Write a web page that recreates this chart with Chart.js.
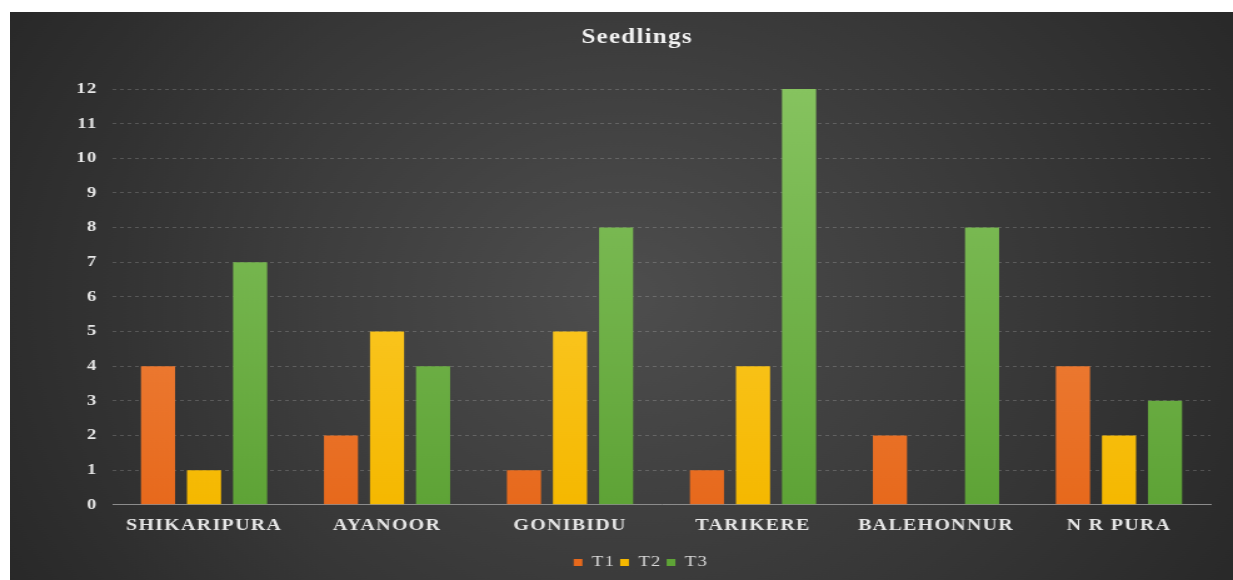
<!DOCTYPE html>
<html>
<head>
<meta charset="utf-8">
<script src="https://cdn.jsdelivr.net/npm/chart.js@4.4.1/dist/chart.umd.min.js"></script>
<style>
    body { margin: 0; background: #fff; }
    #wrap {
        position: absolute;
        left: 10px;
        top: 12px;
        width: 978px;
        height: 568px;
        transform: scaleX(1.2505);
        transform-origin: 0 0;
    }
</style>
</head>
<body>
<div id="wrap"><canvas id="graficoSeedlings" width="978" height="568"></canvas></div>
<script>
// datos del grafico
const lugares = ["SHIKARIPURA", "AYANOOR", "GONIBIDU", "TARIKERE", "BALEHONNUR", "N R PURA"];
const t1 = [4, 2, 1, 1, 2, 4];
const t2 = [1, 5, 5, 4, 0, 2];
const t3 = [7, 4, 8, 12, 8, 3];
const ticksY = [0, 1, 2, 3, 4, 5, 6, 7, 8, 9, 10, 11, 12];

const fuente = "'Liberation Serif', 'Times New Roman', serif";

// degradado vertical para cada barra
function degradado(arriba, abajo) {
    return (c) => {
        const area = c.chart.chartArea;
        if (!area) return abajo;
        const g = c.chart.ctx.createLinearGradient(0, area.bottom, 0, area.top);
        g.addColorStop(0, abajo);
        g.addColorStop(1, arriba);
        return g;
    };
}

// fondo oscuro con brillo al centro + texto un poco espaciado
const fondo = {
    id: "fondo",
    beforeDraw(chart) {
        const { ctx, width, height } = chart;
        const g = ctx.createRadialGradient(width * 0.5, height * 0.5, 10, width * 0.5, height * 0.5, width * 0.62);
        g.addColorStop(0, "#4d4d4d");
        g.addColorStop(1, "#262626");
        ctx.save();
        ctx.fillStyle = g;
        ctx.fillRect(0, 0, width, height);
        ctx.restore();
        ctx.letterSpacing = "1px";
    },
    afterDraw(chart) {
        chart.ctx.letterSpacing = "0px";
    }
};

new Chart(document.getElementById("graficoSeedlings"), {
    type: "bar",
    data: {
        labels: lugares,
        datasets: [
            { label: "T1", data: t1, backgroundColor: degradado("#f39455", "#e7691c") },
            { label: "T2", data: t2, backgroundColor: degradado("#ffd443", "#f5b800") },
            { label: "T3", data: t3, backgroundColor: degradado("#86c35f", "#5ea336") }
        ]
    },
    options: {
        responsive: false,
        animation: false,
        devicePixelRatio: 1,
        categoryPercentage: 0.755,
        barPercentage: 0.74,
        layout: { padding: { left: 43, right: 18, top: 0, bottom: 0 } },
        plugins: {
            title: {
                display: true,
                text: "Seedlings",
                color: "#f2f2f2",
                font: { family: fuente, size: 20, weight: "bold" },
                padding: { top: 14, bottom: 39 }
            },
            legend: {
                position: "bottom",
                labels: {
                    color: "#d9d9d9",
                    font: { family: fuente, size: 15 },
                    boxWidth: 7,
                    boxHeight: 7,
                    padding: 4
                }
            },
            tooltip: { enabled: false }
        },
        scales: {
            x: {
                grid: { display: false },
                border: { display: true, color: "#8c8c8c", width: 1 },
                ticks: {
                    color: "#e6e6e6",
                    font: { family: fuente, size: 16, weight: "bold" },
                    padding: 3,
                    maxRotation: 0
                },
                afterFit: (s) => { s.height += 13; }
            },
            y: {
                min: 0,
                max: 12,
                afterBuildTicks: (s) => { s.ticks = ticksY.map(v => ({ value: v })); },
                grid: {
                    drawTicks: false,
                    color: (c) => c.tick && c.tick.value === 0 ? "rgba(0,0,0,0)" : "rgba(255,255,255,0.18)"
                },
                border: { display: false, dash: [3, 3] },
                ticks: {
                    color: "#e6e6e6",
                    font: { family: fuente, size: 15, weight: "bold" },
                    padding: 12
                }
            }
        }
    },
    plugins: [fondo]
});
</script>
</body>
</html>
